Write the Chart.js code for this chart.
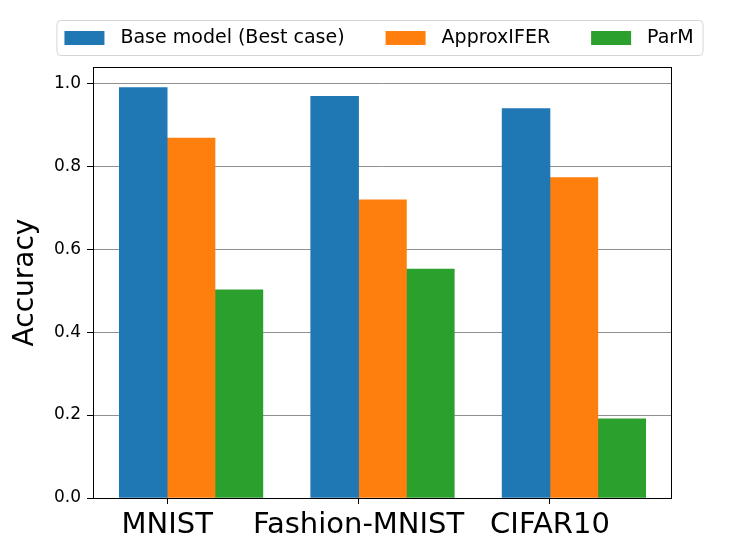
<!DOCTYPE html>
<html>
<head>
<meta charset="utf-8">
<script src="https://cdn.jsdelivr.net/npm/chart.js@4.4.0/dist/chart.umd.min.js"></script>
<style>
  html, body { margin: 0; padding: 0; background: #fff; }
</style>
</head>
<body>
<canvas id="accuracyChart" width="747" height="560"></canvas>
<script>
// data
const categories = ['MNIST', 'Fashion-MNIST', 'CIFAR10'];
const seriesNames = ['Base model (Best case)', 'ApproxIFER', 'ParM'];
const baseModel = [0.99, 0.969, 0.939];
const approxIFER = [0.868, 0.719, 0.773];
const parM = [0.502, 0.552, 0.191];
const yTicks = [0.0, 0.2, 0.4, 0.6, 0.8, 1.0];

const colors = ['#1f77b4', '#ff7f0e', '#2ca02c'];
const barOffsets = [-0.125, 0.125, 0.375]; // matplotlib-style grouped bars, width 0.25
const FONT = 'DejaVu Sans';

Chart.defaults.font.family = FONT;
Chart.defaults.color = '#000';

function toPoints(values, k) {
    return values.map((v, i) => ({ x: i + barOffsets[k], y: v }));
}

const datasets = [baseModel, approxIFER, parM].map((values, k) => ({
    label: seriesNames[k],
    data: toPoints(values, k),
    backgroundColor: colors[k],
    borderWidth: 0,
    grouped: false,
    barPercentage: 1,
    categoryPercentage: 1
}));

// frame around the plot + boxed legend like matplotlib's
const frameAndLegend = {
    id: 'frameAndLegend',
    afterDatasetsDraw(chart) {
        const { ctx, chartArea: a } = chart;
        ctx.save();
        ctx.strokeStyle = '#000';
        ctx.lineWidth = 1;
        ctx.strokeRect(a.left + 0.5, a.top + 0.5, a.right - a.left - 1, a.bottom - a.top);
        ctx.restore();
    },
    afterDraw(chart) {
        const { ctx, chartArea: a } = chart;
        const boxW = 40, boxH = 14, gap = 16, spacing = 41;
        ctx.save();
        ctx.font = '19px "' + FONT + '"';
        const widths = chart.data.datasets.map(d => ctx.measureText(d.label).width);
        let total = 0;
        widths.forEach((w, i) => { total += boxW + gap + w + (i > 0 ? spacing : 0); });
        const frameW = total + 17;
        const frameX = (a.left + a.right) / 2 - 3 - frameW / 2;
        const frameY = 20.5, frameH = 35;

        ctx.beginPath();
        ctx.roundRect(frameX + 0.5, frameY, frameW, frameH, 4);
        ctx.fillStyle = 'rgba(255,255,255,0.8)';
        ctx.fill();
        ctx.strokeStyle = '#d5d5d5';
        ctx.lineWidth = 1;
        ctx.stroke();

        let x = frameX + 8;
        const midY = frameY + frameH / 2;
        ctx.textBaseline = 'middle';
        chart.data.datasets.forEach((d, i) => {
            ctx.fillStyle = d.backgroundColor;
            ctx.fillRect(x, midY - boxH / 2, boxW, boxH);
            ctx.fillStyle = '#000';
            ctx.fillText(d.label, x + boxW + gap, midY);
            x += boxW + gap + widths[i] + spacing;
        });
        ctx.restore();
    }
};

const ctx = document.getElementById('accuracyChart').getContext('2d');
const accuracyChart = new Chart(ctx, {
    type: 'bar',
    data: { datasets: datasets },
    options: {
        responsive: false,
        animation: false,
        devicePixelRatio: 1,
        layout: { padding: { top: 67, right: 75, left: 0, bottom: 0 } },
        plugins: {
            legend: { display: false },
            tooltip: { enabled: false }
        },
        scales: {
            x: {
                type: 'linear',
                min: -0.3875,
                max: 2.6375,
                offset: false,
                afterBuildTicks: (scale) => {
                    scale.ticks = categories.map((c, i) => ({ value: i }));
                },
                afterFit: (scale) => { scale.height = 62; },
                ticks: {
                    callback: (value) => categories[value] ?? '',
                    font: { size: 29 },
                    color: '#000',
                    padding: 4,
                    autoSkip: false,
                    maxRotation: 0
                },
                grid: {
                    offset: false,
                    drawOnChartArea: false,
                    tickLength: 6,
                    tickColor: '#000'
                },
                border: { display: false }
            },
            y: {
                min: 0,
                max: 1.0395,
                afterBuildTicks: (scale) => {
                    scale.ticks = yTicks.map(v => ({ value: v }));
                },
                afterFit: (scale) => { scale.width = 93; },
                ticks: {
                    callback: (value) => value.toFixed(1),
                    font: { size: 17 },
                    color: '#000',
                    padding: 6
                },
                grid: {
                    color: '#909090',
                    lineWidth: 1,
                    tickLength: 6,
                    tickColor: '#000'
                },
                border: { display: false },
                title: {
                    display: true,
                    text: 'Accuracy',
                    font: { size: 28 },
                    color: '#000',
                    padding: { top: 9, bottom: 0 }
                }
            }
        }
    },
    plugins: [frameAndLegend]
});
</script>
</body>
</html>
